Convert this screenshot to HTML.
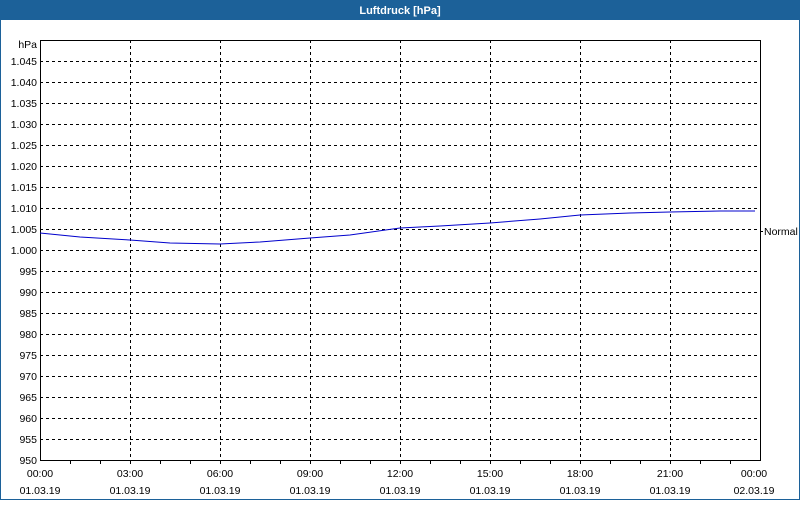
<!DOCTYPE html>
<html><head><meta charset="utf-8"><style>
body{margin:0;width:800px;height:500px;overflow:hidden;background:#fff;font-family:"Liberation Sans",sans-serif}
</style></head><body>
<svg width="800" height="500" xmlns="http://www.w3.org/2000/svg" font-family="Liberation Sans, sans-serif" font-size="11">
<rect x="0" y="0" width="800" height="500" fill="#fff"/>
<rect x="0.5" y="0.5" width="799" height="499" fill="none" stroke="#1c6199"/>
<rect x="0" y="0" width="800" height="20" fill="#1c6199"/>
<text x="400" y="14" fill="#fff" font-weight="bold" text-anchor="middle">Luftdruck [hPa]</text>
<g stroke="#000" stroke-dasharray="3,3" stroke-width="1">
<line x1="40" x2="760" y1="61.5" y2="61.5"/><line x1="40" x2="760" y1="82.5" y2="82.5"/><line x1="40" x2="760" y1="103.5" y2="103.5"/><line x1="40" x2="760" y1="124.5" y2="124.5"/><line x1="40" x2="760" y1="145.5" y2="145.5"/><line x1="40" x2="760" y1="166.5" y2="166.5"/><line x1="40" x2="760" y1="187.5" y2="187.5"/><line x1="40" x2="760" y1="208.5" y2="208.5"/><line x1="40" x2="760" y1="229.5" y2="229.5"/><line x1="40" x2="760" y1="250.5" y2="250.5"/><line x1="40" x2="760" y1="271.5" y2="271.5"/><line x1="40" x2="760" y1="292.5" y2="292.5"/><line x1="40" x2="760" y1="313.5" y2="313.5"/><line x1="40" x2="760" y1="334.5" y2="334.5"/><line x1="40" x2="760" y1="355.5" y2="355.5"/><line x1="40" x2="760" y1="376.5" y2="376.5"/><line x1="40" x2="760" y1="397.5" y2="397.5"/><line x1="40" x2="760" y1="418.5" y2="418.5"/><line x1="40" x2="760" y1="439.5" y2="439.5"/>
<line y1="40" y2="460" x1="130.5" x2="130.5"/><line y1="40" y2="460" x1="220.5" x2="220.5"/><line y1="40" y2="460" x1="310.5" x2="310.5"/><line y1="40" y2="460" x1="400.5" x2="400.5"/><line y1="40" y2="460" x1="490.5" x2="490.5"/><line y1="40" y2="460" x1="580.5" x2="580.5"/><line y1="40" y2="460" x1="670.5" x2="670.5"/>
</g>
<rect x="40.5" y="40.5" width="720" height="420" fill="none" stroke="#000"/>
<g stroke="#000">
<line x1="70.5" x2="70.5" y1="460" y2="464"/><line x1="100.5" x2="100.5" y1="460" y2="464"/><line x1="130.5" x2="130.5" y1="460" y2="464"/><line x1="160.5" x2="160.5" y1="460" y2="464"/><line x1="190.5" x2="190.5" y1="460" y2="464"/><line x1="220.5" x2="220.5" y1="460" y2="464"/><line x1="250.5" x2="250.5" y1="460" y2="464"/><line x1="280.5" x2="280.5" y1="460" y2="464"/><line x1="310.5" x2="310.5" y1="460" y2="464"/><line x1="340.5" x2="340.5" y1="460" y2="464"/><line x1="370.5" x2="370.5" y1="460" y2="464"/><line x1="400.5" x2="400.5" y1="460" y2="464"/><line x1="430.5" x2="430.5" y1="460" y2="464"/><line x1="460.5" x2="460.5" y1="460" y2="464"/><line x1="490.5" x2="490.5" y1="460" y2="464"/><line x1="520.5" x2="520.5" y1="460" y2="464"/><line x1="550.5" x2="550.5" y1="460" y2="464"/><line x1="580.5" x2="580.5" y1="460" y2="464"/><line x1="610.5" x2="610.5" y1="460" y2="464"/><line x1="640.5" x2="640.5" y1="460" y2="464"/><line x1="670.5" x2="670.5" y1="460" y2="464"/><line x1="700.5" x2="700.5" y1="460" y2="464"/><line x1="730.5" x2="730.5" y1="460" y2="464"/>
<line x1="760" x2="763" y1="231.5" y2="231.5"/>
</g>
<g text-anchor="end" fill="#000" font-size="10.5">
<text x="37" y="48">hPa</text>
<text x="37" y="65">1.045</text><text x="37" y="86">1.040</text><text x="37" y="107">1.035</text><text x="37" y="128">1.030</text><text x="37" y="149">1.025</text><text x="37" y="170">1.020</text><text x="37" y="191">1.015</text><text x="37" y="212">1.010</text><text x="37" y="233">1.005</text><text x="37" y="254">1.000</text><text x="37" y="275">995</text><text x="37" y="296">990</text><text x="37" y="317">985</text><text x="37" y="338">980</text><text x="37" y="359">975</text><text x="37" y="380">970</text><text x="37" y="401">965</text><text x="37" y="422">960</text><text x="37" y="443">955</text><text x="37" y="464">950</text>
</g>
<text x="764" y="235" font-size="10.5">Normal</text>
<g text-anchor="middle" font-size="10.5" fill="#000">
<text x="40" y="477">00:00</text><text x="40" y="494">01.03.19</text>
<text x="130" y="477">03:00</text><text x="130" y="494">01.03.19</text>
<text x="220" y="477">06:00</text><text x="220" y="494">01.03.19</text>
<text x="310" y="477">09:00</text><text x="310" y="494">01.03.19</text>
<text x="400" y="477">12:00</text><text x="400" y="494">01.03.19</text>
<text x="490" y="477">15:00</text><text x="490" y="494">01.03.19</text>
<text x="580" y="477">18:00</text><text x="580" y="494">01.03.19</text>
<text x="670" y="477">21:00</text><text x="670" y="494">01.03.19</text>
<text x="754" y="477">00:00</text><text x="754" y="494">02.03.19</text>
</g>
<polyline fill="none" stroke="#0000cc" stroke-width="1" points="40,233 80,237 130,240 170,243 220,244 260,242 310,238 350,235 400,228 440,226 490,223 540,219 580,215 630,213 670,212 720,211 755,211"/>
</svg>
</body></html>
